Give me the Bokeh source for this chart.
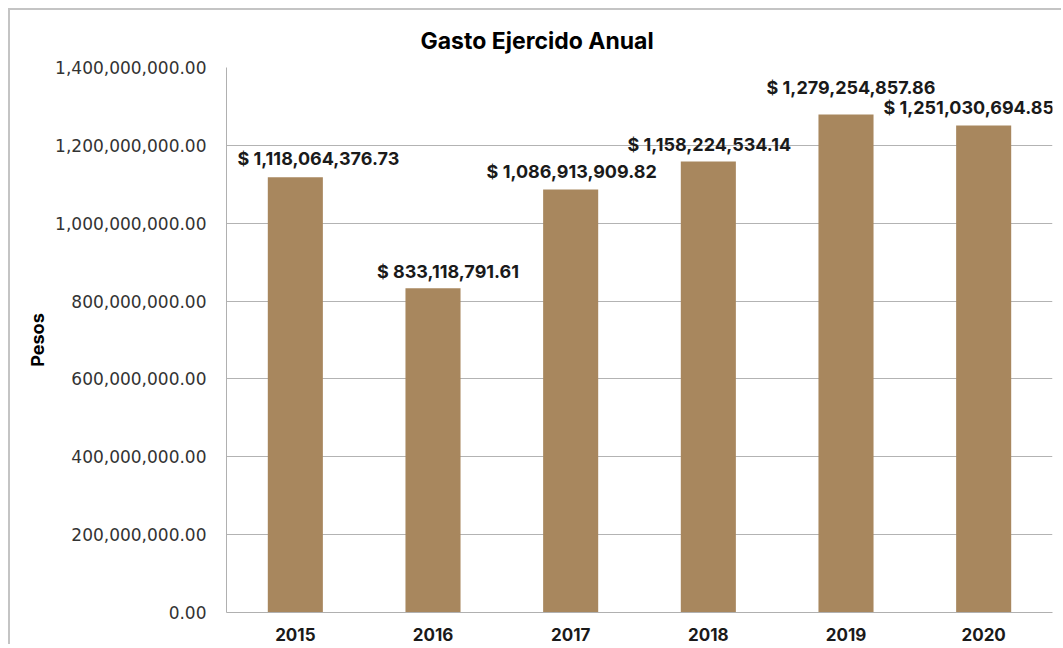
from bokeh.plotting import figure
from bokeh.models import NumeralTickFormatter, ColumnDataSource, FixedTicker, Range1d
from bokeh.embed import file_html
from bokeh.resources import INLINE
from bokeh.core.properties import value

years = ["2015", "2016", "2017", "2018", "2019", "2020"]
gasto = [1118064376.73, 833118791.61, 1086913909.82, 1158224534.14, 1279254857.86, 1251030694.85]
labels = ["$ {:,.2f}".format(v) for v in gasto]
y_ticks = [0, 200000000, 400000000, 600000000, 800000000, 1000000000, 1200000000, 1400000000]

# label placement nudges (pixels), as in the reference
label_dx = [23, 15, 1, 1, 5, -15]
label_dy = [-19, -17, -18, -17, -27, -18]

src = ColumnDataSource(dict(year=years, gasto=gasto, label=labels, dx=label_dx, dy=label_dy))

p = figure(x_range=years, y_range=Range1d(0, 1400000000), width=1053, height=636,
           output_backend="svg", toolbar_location=None,
           min_border_left=216, min_border_right=11, min_border_top=57, min_border_bottom=34)
p.styles = {"border-left": "2px solid #c4c4c4", "border-top": "2px solid #c4c4c4",
            "margin-left": "8px", "margin-top": "8px"}
p.outline_line_color = None

p.title.text = "Gasto Ejercido Anual"
p.title.align = "left"
p.title.offset = 194
p.title.text_font = "Inter"
p.title.text_font_style = "bold"
p.title.text_font_size = "23px"
p.title.text_color = "#000000"
p.title.standoff = 26

p.vbar(x="year", top="gasto", width=0.4, source=src, fill_color="#A8875E", line_color=None)
p.text(x="year", y="gasto", text="label", source=src, text_align="center", text_baseline="middle",
       x_offset="dx", y_offset="dy", text_font=value("Inter"), text_font_style="bold",
       text_font_size="18px", text_color="#1a1a1a")

p.yaxis.ticker = FixedTicker(ticks=y_ticks)
p.yaxis.formatter = NumeralTickFormatter(format="0,0.00")
p.yaxis.major_label_text_font = "DejaVu Sans"
p.yaxis.major_label_text_font_size = "17px"
p.yaxis.major_label_text_color = "#333333"
p.yaxis.major_tick_line_color = None
p.yaxis.minor_tick_line_color = None
p.yaxis.axis_line_color = "#b0b0b0"
p.yaxis.major_label_standoff = 14
p.yaxis.axis_label = "Pesos"
p.yaxis.axis_label_text_font = "Inter"
p.yaxis.axis_label_text_font_style = "bold"
p.yaxis.axis_label_text_font_size = "18px"
p.yaxis.axis_label_text_color = "#000000"
p.yaxis.axis_label_standoff = 4

p.xaxis.major_label_text_font = "Inter"
p.xaxis.major_label_text_font_style = "bold"
p.xaxis.major_label_text_font_size = "17px"
p.xaxis.major_label_text_color = "#1a1a1a"
p.xaxis.major_tick_line_color = None
p.xaxis.axis_line_color = "#b0b0b0"
p.xaxis.major_label_standoff = 9

p.xgrid.grid_line_color = None
p.ygrid.grid_line_color = "#b3b3b3"

open("out.html", "w").write(file_html(p, INLINE))
